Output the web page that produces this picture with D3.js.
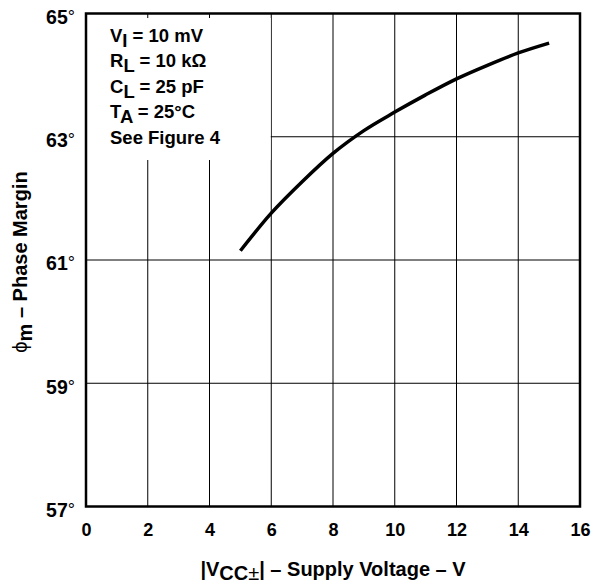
<!DOCTYPE html>
<html>
<head>
<meta charset="utf-8">
<script src="https://d3js.org/d3.v7.min.js"></script>
<style>
  body { margin: 0; background: #fff; }
  svg { font-family: "Liberation Sans", Arial, sans-serif; font-weight: bold; }
</style>
</head>
<body>
<div id="chart"></div>
<script>
// supply voltage (V) and phase margin (deg)
const supplyVoltage = [5, 6, 7, 8, 9, 10, 11, 12, 13, 14, 15];
const phaseMargin = [61.15, 61.76, 62.27, 62.73, 63.1, 63.4, 63.68, 63.94, 64.16, 64.36, 64.52];

const xTicks = [0, 2, 4, 6, 8, 10, 12, 14, 16];
const yTicks = [57, 59, 61, 63, 65];

// test conditions: [main, subscript, rest]
const conditions = [
    ["V", "I", " = 10 mV"],
    ["R", "L", " = 10 k\u03A9"],
    ["C", "L", " = 25 pF"],
    ["T", "A", " = 25\u00B0C"],
    ["See Figure 4", "", ""]
];

const W = 594, H = 584;
const margin = {top: 13.5, right: 14, bottom: 77.5, left: 86};
const width = W - margin.left - margin.right,
      height = H - margin.top - margin.bottom;

const svg = d3.select("#chart").append("svg")
    .attr("width", W)
    .attr("height", H);

const g = svg.append("g")
    .attr("transform", "translate(" + margin.left + "," + margin.top + ")");

const x = d3.scaleLinear().domain([0, 16]).range([0, width]);
const y = d3.scaleLinear().domain([57, 65]).range([height, 0]);

// grid
g.selectAll(".vgrid")
    .data(xTicks.slice(1, -1))
    .enter().append("line")
    .attr("x1", d => x(d)).attr("x2", d => x(d))
    .attr("y1", 0).attr("y2", height)
    .attr("stroke", "#000").attr("stroke-width", 1);

g.selectAll(".hgrid")
    .data(yTicks.slice(1, -1))
    .enter().append("line")
    .attr("x1", 0).attr("x2", width)
    .attr("y1", d => y(d)).attr("y2", d => y(d))
    .attr("stroke", "#000").attr("stroke-width", 1);

// white box behind the conditions text
g.append("rect")
    .attr("x", 1).attr("y", 4.5)
    .attr("width", x(6) - 1.5).attr("height", 142)
    .attr("fill", "#fff");

// curve
const line = d3.line()
    .x((d, i) => x(supplyVoltage[i]))
    .y(d => y(d))
    .curve(d3.curveMonotoneX);

g.append("path")
    .datum(phaseMargin)
    .attr("d", line)
    .attr("fill", "none")
    .attr("stroke", "#000")
    .attr("stroke-width", 3.5);

// frame
g.append("rect")
    .attr("width", width).attr("height", height)
    .attr("fill", "none")
    .attr("stroke", "#000")
    .attr("stroke-width", 2.5);

// axes (labels only)
const xAxis = g.append("g")
    .attr("transform", "translate(0," + height + ")")
    .call(d3.axisBottom(x).tickValues(xTicks).tickSize(0).tickPadding(17));
xAxis.select(".domain").remove();
xAxis.selectAll("text")
    .attr("font-size", 18).attr("font-family", null).attr("fill", "#000");

const yAxis = g.append("g")
    .call(d3.axisLeft(y).tickValues(yTicks).tickSize(0).tickPadding(11)
        .tickFormat(d => d));
yAxis.select(".domain").remove();
yAxis.selectAll("text")
    .attr("font-size", 19.5).attr("font-family", null).attr("fill", "#000")
    .attr("dy", "0.5em")
    .append("tspan")
    .attr("font-weight", "normal")
    .attr("font-size", 18)
    .attr("dy", "-0.05em")
    .text("\u00B0");

// conditions text
const notes = g.append("text")
    .attr("font-size", 18.5)
    .attr("fill", "#000");
conditions.forEach((c, i) => {
    const base = 28 + i * 25.6;
    notes.append("tspan").attr("x", 24).attr("y", base).text(c[0]);
    if (c[1]) {
        notes.append("tspan").attr("dy", 5).text(c[1]);
        notes.append("tspan").attr("dy", -5).text(c[2]);
    }
});

// x axis title
const xt = svg.append("text")
    .attr("x", margin.left + width / 2)
    .attr("y", 576)
    .attr("text-anchor", "middle")
    .attr("font-size", 20)
    .attr("fill", "#000");
xt.append("tspan").text("|V");
xt.append("tspan").attr("dy", 4).text("CC");
xt.append("tspan").attr("font-weight", "normal").text("\u00B1");
xt.append("tspan").attr("dy", -4).text("| \u2013 Supply Voltage \u2013 V");

// y axis title
const yt = svg.append("text")
    .attr("transform", "translate(27," + 262 + ") rotate(-90)")
    .attr("text-anchor", "middle")
    .attr("font-size", 20)
    .attr("fill", "#000");
yt.append("tspan").attr("font-weight", "normal").text("\u03D5");
yt.append("tspan").attr("dy", 5).text("m");
yt.append("tspan").attr("dy", -5).text(" \u2013 Phase Margin");
</script>
</body>
</html>
